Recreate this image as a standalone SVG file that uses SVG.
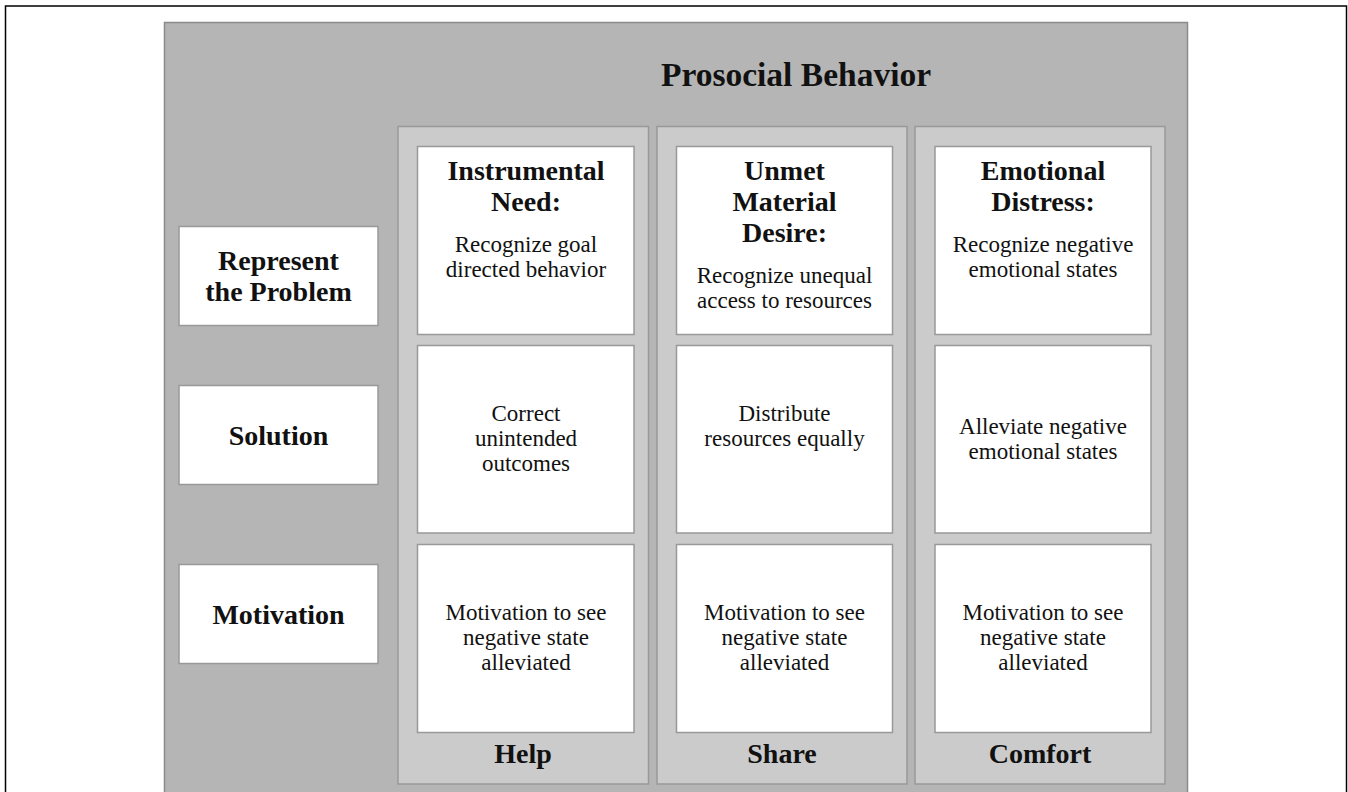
<svg xmlns="http://www.w3.org/2000/svg" width="1348" height="792" viewBox="0 0 1348 792">
<style>
.frame{fill:#ffffff;stroke:#000000;stroke-width:1.5}
.panel{fill:#b5b5b5;stroke:#8a8a8a;stroke-width:1.5}
.col{fill:#cbcbcb;stroke:#999999;stroke-width:1.5}
.box{fill:#ffffff;stroke:#999999;stroke-width:1.5}
text{font-family:"Liberation Serif","Times New Roman",serif;fill:#111111;text-anchor:middle}
.title{font-size:33.5px;font-weight:bold}
.hd{font-size:28px;font-weight:bold}
.bd{font-size:23px}
</style>
<rect class="frame" x="5.5" y="6" width="1341" height="800"/>
<g id="panel">
<rect class="panel" x="164.5" y="22.5" width="1023" height="780"/>
<text class="title" x="796" y="86">Prosocial Behavior</text>
</g>
<g id="row-labels">
<g id="represent">
<rect class="box" x="179" y="226.5" width="199" height="99"/>
<text class="hd" x="278.5" y="270">Represent</text>
<text class="hd" x="278.5" y="301">the Problem</text>
</g>
<g id="solution">
<rect class="box" x="179" y="385.5" width="199" height="99"/>
<text class="hd" x="278.5" y="444.5">Solution</text>
</g>
<g id="motivation">
<rect class="box" x="179" y="564.5" width="199" height="99"/>
<text class="hd" x="278.5" y="623.5">Motivation</text>
</g>
</g>
<g id="help">
<rect class="col" x="398" y="126.5" width="250.5" height="657.5"/>
<g id="help-represent">
<rect class="box" x="417.5" y="146.5" width="216.5" height="188"/>
<text class="hd" x="526" y="180">Instrumental</text>
<text class="hd" x="526" y="211">Need:</text>
<text class="bd" x="526" y="251.5">Recognize goal</text>
<text class="bd" x="526" y="276.5">directed behavior</text>
</g>
<g id="help-solution">
<rect class="box" x="417.5" y="345.5" width="216.5" height="187.5"/>
<text class="bd" x="526" y="421">Correct</text>
<text class="bd" x="526" y="446">unintended</text>
<text class="bd" x="526" y="471">outcomes</text>
</g>
<g id="help-motivation">
<rect class="box" x="417.5" y="544.5" width="216.5" height="188"/>
<text class="bd" x="526" y="620">Motivation to see</text>
<text class="bd" x="526" y="645">negative state</text>
<text class="bd" x="526" y="670">alleviated</text>
</g>
<text class="hd" x="523" y="762.5">Help</text>
</g>
<g id="share">
<rect class="col" x="657" y="126.5" width="250" height="657.5"/>
<g id="share-represent">
<rect class="box" x="676.5" y="146.5" width="216" height="188"/>
<text class="hd" x="784.5" y="180">Unmet</text>
<text class="hd" x="784.5" y="211">Material</text>
<text class="hd" x="784.5" y="242">Desire:</text>
<text class="bd" x="784.5" y="283">Recognize unequal</text>
<text class="bd" x="784.5" y="308">access to resources</text>
</g>
<g id="share-solution">
<rect class="box" x="676.5" y="345.5" width="216" height="187.5"/>
<text class="bd" x="784.5" y="421">Distribute</text>
<text class="bd" x="784.5" y="446">resources equally</text>
</g>
<g id="share-motivation">
<rect class="box" x="676.5" y="544.5" width="216" height="188"/>
<text class="bd" x="784.5" y="620">Motivation to see</text>
<text class="bd" x="784.5" y="645">negative state</text>
<text class="bd" x="784.5" y="670">alleviated</text>
</g>
<text class="hd" x="782" y="762.5">Share</text>
</g>
<g id="comfort">
<rect class="col" x="915" y="126.5" width="250" height="657.5"/>
<g id="comfort-represent">
<rect class="box" x="935" y="146.5" width="216" height="188"/>
<text class="hd" x="1043" y="180">Emotional</text>
<text class="hd" x="1043" y="211">Distress:</text>
<text class="bd" x="1043" y="252">Recognize negative</text>
<text class="bd" x="1043" y="277">emotional states</text>
</g>
<g id="comfort-solution">
<rect class="box" x="935" y="345.5" width="216" height="187.5"/>
<text class="bd" x="1043" y="434">Alleviate negative</text>
<text class="bd" x="1043" y="459">emotional states</text>
</g>
<g id="comfort-motivation">
<rect class="box" x="935" y="544.5" width="216" height="188"/>
<text class="bd" x="1043" y="620">Motivation to see</text>
<text class="bd" x="1043" y="645">negative state</text>
<text class="bd" x="1043" y="670">alleviated</text>
</g>
<text class="hd" x="1040" y="762.5">Comfort</text>
</g>
<g id="connectors"/>
</svg>
